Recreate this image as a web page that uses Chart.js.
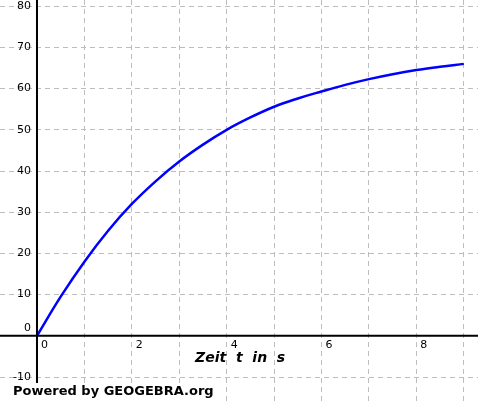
<!DOCTYPE html>
<html>
<head>
<meta charset="utf-8">
<script src="https://cdn.jsdelivr.net/npm/chart.js@4/dist/chart.umd.min.js"></script>
<style>
html, body { margin: 0; padding: 0; background: #fff; }
#wrap { width: 478px; height: 403px; }
</style>
</head>
<body>
<div id="wrap"><canvas id="myChart"></canvas></div>
<script>
// Werte
const zeit = [0, 0.5, 1, 1.5, 2, 2.5, 3, 3.5, 4, 4.5, 5, 5.5, 6, 6.5, 7, 7.5, 8, 8.5, 9];
const werte = [0, 9.5, 18, 25.5, 32, 37.5, 42.3, 46.4, 50, 53, 55.6, 57.6, 59.3, 60.9, 62.3, 63.5, 64.5, 65.3, 66];
const xTicks = [0, 2, 4, 6, 8];
const yTicks = [-10, 0, 10, 20, 30, 40, 50, 60, 70, 80];

// Achsen, Beschriftungen und Fußzeile
const achsenPlugin = {
	id: 'achsen',
	afterDatasetsDraw(chart) {
		const ctx = chart.ctx;
		const x = chart.scales.x, y = chart.scales.y;
		const x0 = x.getPixelForValue(0), y0 = y.getPixelForValue(0);
		const a = chart.chartArea;
		ctx.save();
		ctx.strokeStyle = '#000';
		ctx.lineWidth = 2;
		ctx.beginPath();
		ctx.moveTo(a.left, y0); ctx.lineTo(a.right, y0);
		ctx.moveTo(x0, a.top); ctx.lineTo(x0, a.bottom);
		ctx.stroke();
		ctx.fillStyle = '#000';
		ctx.font = '11px "DejaVu Sans"';
		ctx.textAlign = 'left';
		ctx.textBaseline = 'top';
		xTicks.forEach(v => ctx.fillText(String(v), x.getPixelForValue(v) + 4, y0 + 4));
		ctx.textAlign = 'right';
		ctx.textBaseline = 'middle';
		yTicks.forEach(v => {
			const py = y.getPixelForValue(v) + (v === 0 ? -8 : 0);
			ctx.fillText(String(v), x0 - 6, py);
		});
		ctx.textAlign = 'left';
		ctx.font = 'italic bold 14px "DejaVu Sans"';
		ctx.fillText('Zeit  t  in  s', 195, 358);
		ctx.font = 'bold 13px "DejaVu Sans"';
		const txt = 'Powered by GEOGEBRA.org';
		const w = ctx.measureText(txt).width;
		ctx.fillStyle = '#fff';
		ctx.fillRect(10, 383, w + 6, 20);
		ctx.fillStyle = '#000';
		ctx.fillText(txt, 13, 392);
		ctx.restore();
	}
};

const gridOpts = { color: '#bdbdbd', lineWidth: 1, tickLength: 0 };
new Chart(document.getElementById('myChart').getContext('2d'), {
	type: 'line',
	data: {
		labels: zeit,
		datasets: [{
			data: zeit.map((t, i) => ({ x: t, y: werte[i] })),
			borderColor: '#0000ff',
			borderWidth: 2.5,
			pointRadius: 0,
			tension: 0.4,
			fill: false,
		}],
	},
	options: {
		responsive: true,
		maintainAspectRatio: false,
		animation: false,
		layout: { padding: 0 },
		plugins: { legend: { display: false }, tooltip: { enabled: false } },
		scales: {
			x: {
				type: 'linear', min: -0.78, max: 9.3,
				afterBuildTicks: s => { s.ticks = [0,1,2,3,4,5,6,7,8,9].map(v => ({ value: v })); },
				ticks: { display: false },
				border: { display: false, dash: [5, 4] },
				grid: gridOpts,
			},
			y: {
				type: 'linear', min: -16.3, max: 81.5,
				afterBuildTicks: s => { s.ticks = yTicks.map(v => ({ value: v })); },
				ticks: { display: false },
				border: { display: false, dash: [5, 4] },
				grid: gridOpts,
			},
		},
	},
	plugins: [achsenPlugin],
});
</script>
</body>
</html>
